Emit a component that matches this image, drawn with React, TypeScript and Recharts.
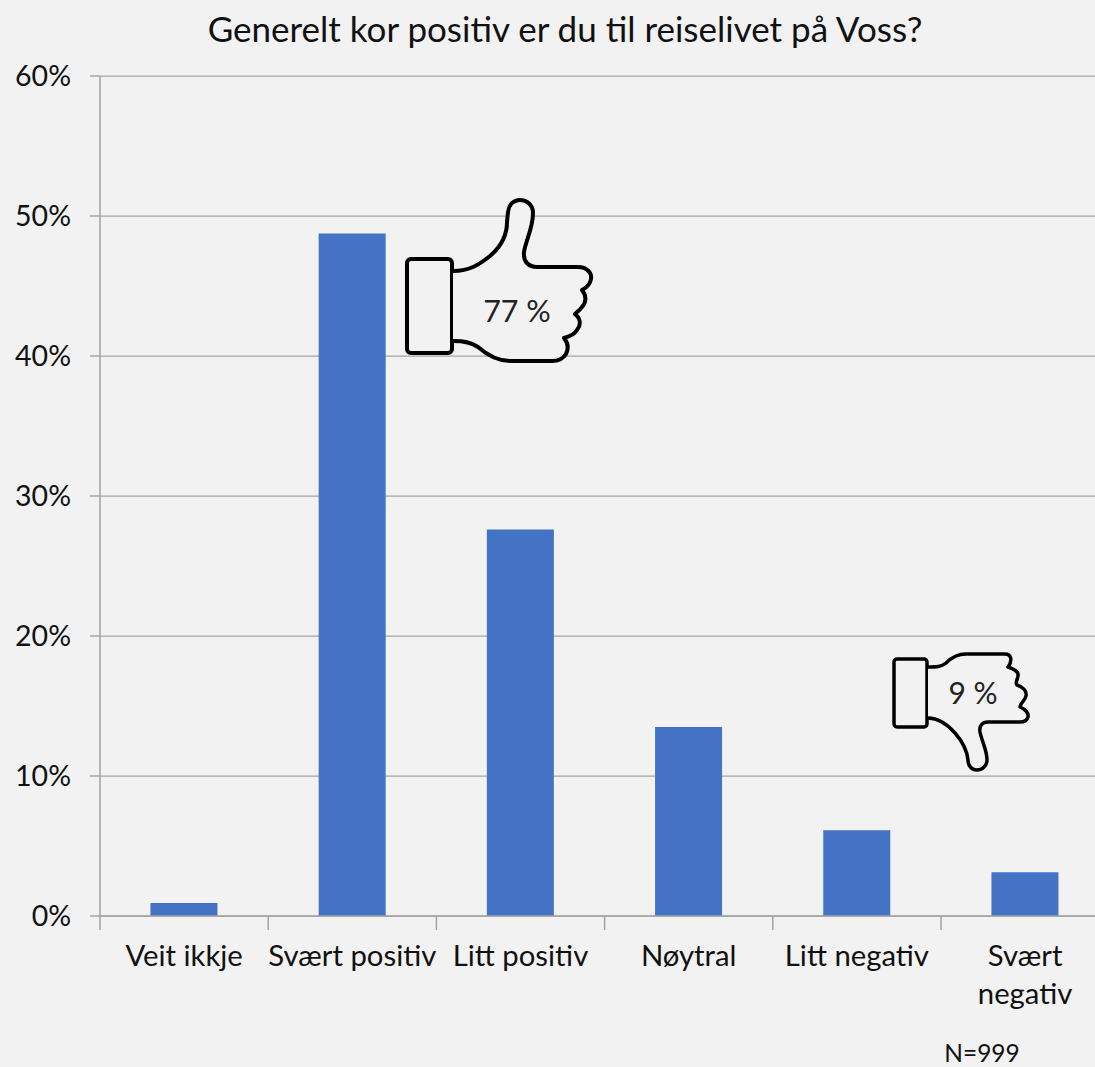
import React from "react";
import { BarChart, Bar, XAxis, YAxis, CartesianGrid } from "recharts";

const categories = ["Veit ikkje", "Svært positiv", "Litt positiv", "Nøytral", "Litt negativ", "Svært negativ"];
const shares = [0.93, 48.75, 27.6, 13.5, 6.12, 3.12];
const yTicks = [0, 10, 20, 30, 40, 50, 60];
const wrappedLabels = ["Svært negativ"];
const titleText = "Generelt kor positiv er du til reiselivet på Voss?";
const upLabel = "77 %";
const downLabel = "9 %";
const sampleLabel = "N=999";

const rows = categories.map((name, i) => ({ name, share: shares[i] }));

const FONT = "Lato, 'Open Sans', sans-serif";
const AXIS = "#a3a3a3";
const CHART_W = 1120;
const M_LEFT = 100;
const M_RIGHT = 10.8;
const BAND = (CHART_W - M_LEFT - M_RIGHT) / categories.length;

function CategoryTick(props: any) {
  const { x, payload } = props;
  const value: string = payload.value;
  const lines = wrappedLabels.includes(value) ? value.split(" ") : [value];
  const left = x - BAND / 2;
  return (
    <g>
      <line x1={left} x2={left} y1={916} y2={930} stroke={AXIS} strokeWidth={1.5} />
      <text textAnchor="middle" fontFamily={FONT} fontSize={29.3} fill="#111">
        {lines.map((l, i) => (
          <tspan key={l} x={x} y={966 + i * 38}>{l}</tspan>
        ))}
      </text>
    </g>
  );
}

const thumbUpHand =
  "M453 271 C470 271 480 264 490 256 C503 245 507 232 507 222 L508 212 C509 204 514 200 520 200 C527 200 533 205 533 213 C533 228 526 240 524 252 C523 262 529 267 537 267 L578 267 C587 267 592 273 591 279 C590 285 586 288 582 290 C587 296 586 303 582 307 C580 310 577 312 575 314 C581 319 581 325 577 330 C574 335 568 337 564 338 C569 344 568 350 566 354 C563 359 558 361 552 361 L510 361 C496 361 486 354 478 347 C471 342 464 341 453 341";
const thumbDownHand =
  "M928 667 C936 667 941 667 946 663 C952 657 958 654 966 654 L1005 654 C1011 654 1013 660 1008 667 C1014 669 1019 672 1018 676 C1017 681 1015 683 1017 685 C1023 687 1027 691 1026 696 C1025 701 1020 703 1020 707 C1025 709 1029 713 1028 717 C1027 721 1024 722 1020 722 L988 722 C982 722 979 726 980 732 C982 742 987 750 987 760 C987 766 982 770 977 770 C972 770 968 766 968 760 C967 750 962 741 955 733 C948 725 940 718 928 718";

function Overlay() {
  return (
    <svg width={1095} height={1067} style={{ position: "absolute", left: 0, top: 0 }}>
      <text x={565} y={42} textAnchor="middle" fontFamily={FONT} fontSize={35} fill="#111">{titleText}</text>
      <rect x={407} y={259} width={45} height={94} rx={4} fill="#f2f2f2" stroke="#000" strokeWidth={4} />
      <path d={thumbUpHand} fill="#f2f2f2" stroke="#000" strokeWidth={4} strokeLinejoin="round" />
      <text x={517} y={322} textAnchor="middle" fontFamily={FONT} fontSize={30.5} fill="#222">{upLabel}</text>
      <rect x={894} y={659} width={33} height={68} rx={3} fill="#f2f2f2" stroke="#000" strokeWidth={3.5} />
      <path d={thumbDownHand} fill="#f2f2f2" stroke="#000" strokeWidth={3.5} strokeLinejoin="round" />
      <text x={973} y={704} textAnchor="middle" fontFamily={FONT} fontSize={30} fill="#222">{downLabel}</text>
      <text x={982} y={1062} textAnchor="middle" fontFamily={FONT} fontSize={24.5} fill="#111">{sampleLabel}</text>
    </svg>
  );
}

export default function App() {
  return (
    <div style={{ position: "absolute", left: 0, top: 0, width: 1095, height: 1067, overflow: "hidden", background: "#f2f2f2" }}>
      <BarChart
        width={CHART_W}
        height={1067}
        data={rows}
        margin={{ top: 76, right: M_RIGHT, bottom: 0, left: 0 }}
        barCategoryGap="30%"
      >
        <CartesianGrid vertical={false} stroke={AXIS} strokeWidth={1.25} />
        <XAxis
          dataKey="name"
          height={151}
          interval={0}
          stroke={AXIS}
          strokeWidth={1.5}
          tickLine={false}
          tick={<CategoryTick />}
        />
        <YAxis
          width={M_LEFT}
          domain={[0, 60]}
          ticks={yTicks}
          interval={0}
          tickFormatter={(v: number) => `${v}%`}
          stroke={AXIS}
          strokeWidth={1.5}
          tickSize={10}
          tickMargin={19}
          tick={{ fontFamily: FONT, fontSize: 28.5, fill: "#111" }}
        />
        <Bar dataKey="share" fill="#4472c4" isAnimationActive={false} />
      </BarChart>
      <Overlay />
    </div>
  );
}
